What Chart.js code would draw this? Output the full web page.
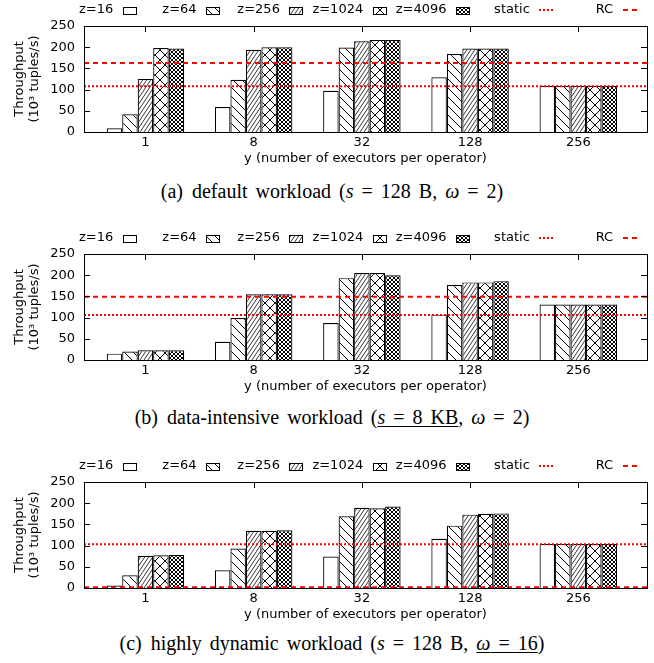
<!DOCTYPE html>
<html><head><meta charset="utf-8">
<script src="https://cdn.jsdelivr.net/npm/chart.js@4.4.0/dist/chart.umd.min.js"></script>
<style>
html,body{margin:0;padding:0;background:#fff;}
body{width:654px;height:663px;position:relative;overflow:hidden;}
canvas.panel{position:absolute;left:0;}
.cap{position:absolute;left:0;width:664px;text-align:center;font-family:"Liberation Serif","DejaVu Serif",serif;font-size:20px;line-height:22px;word-spacing:3px;color:#000;white-space:nowrap;}
.cap .lbl{margin-right:9px;}
.cap u{text-decoration:underline;text-underline-offset:2px;text-decoration-thickness:1px;}
</style></head><body>
<canvas id="ca" class="panel" width="654" height="172" style="top:0px"></canvas>
<div class="cap" style="top:179.5px"><span class="lbl">(a)</span>default workload (<i>s</i> = 128 B, <i>ω</i> = 2)</div>
<canvas id="cb" class="panel" width="654" height="172" style="top:228px"></canvas>
<div class="cap" style="top:405.5px"><span class="lbl">(b)</span>data-intensive workload (<u><i>s</i> = 8 KB</u>, <i>ω</i> = 2)</div>
<canvas id="cc" class="panel" width="654" height="172" style="top:456px"></canvas>
<div class="cap" style="top:632px"><span class="lbl">(c)</span>highly dynamic workload (<i>s</i> = 128 B, <u><i>ω</i> = 16</u>)</div>
<script>
// ---- data ----
const categories = ['1', '8', '32', '128', '256'];
const seriesNames = ['z=16', 'z=64', 'z=256', 'z=1024', 'z=4096'];
const yTicks = [0, 50, 100, 150, 200, 250];

// (a) default workload
const a_z16   = [9, 59, 97, 129, 109];
const a_z64   = [42, 123, 199, 184, 109];
const a_z256  = [125, 194, 214, 197, 109];
const a_z1024 = [198, 200, 217, 197, 109];
const a_z4096 = [197, 200, 217, 197, 109];
const a_static = 108;
const a_rc = 163;

// (b) data-intensive workload
const b_z16   = [15, 43, 87, 107, 131];
const b_z64   = [20, 99, 193, 177, 131];
const b_z256  = [23, 155, 205, 183, 131];
const b_z1024 = [23, 155, 205, 183, 131];
const b_z4096 = [23, 155, 200, 186, 131];
const b_static = 106;
const b_rc = 149;

// (c) highly dynamic workload
const c_z16   = [6, 42, 74, 116, 104];
const c_z64   = [30, 93, 169, 147, 104];
const c_z256  = [76, 135, 189, 173, 104];
const c_z1024 = [77, 135, 188, 175, 104];
const c_z4096 = [78, 136, 192, 176, 104];
const c_static = 103;
const c_rc = 1.5;

// ---- styling ----
const FONT = 'DejaVu Sans';
Chart.defaults.font.family = FONT;
Chart.defaults.font.size = 13;
Chart.defaults.color = '#000';
const X_MIN = -0.568, X_MAX = 4.635;
const RED = '#ff0000';

function makePattern(w, h, draw) {
  const c = document.createElement('canvas');
  c.width = w; c.height = h;
  const g = c.getContext('2d');
  g.fillStyle = '#fff'; g.fillRect(0, 0, w, h);
  g.strokeStyle = '#000'; g.lineWidth = 1;
  draw(g, w, h);
  return g.createPattern(c, 'repeat');
}
function back(g, w, h) { g.beginPath(); for (let k = -1; k <= 1; k++) { g.moveTo(k * w, 0); g.lineTo(k * w + w, h); } g.stroke(); }
function fwd(g, w, h) { g.beginPath(); for (let k = -1; k <= 1; k++) { g.moveTo(k * w, h); g.lineTo(k * w + w, 0); } g.stroke(); }

const fills = [
  '#ffffff',
  makePattern(9, 9, (g, w, h) => { g.lineWidth = 1; back(g, w, h); }),
  makePattern(4, 6, (g, w, h) => { g.lineWidth = 0.9; g.strokeStyle = '#222'; fwd(g, w, h); }),
  makePattern(10, 10, (g, w, h) => { g.lineWidth = 1; back(g, w, h); fwd(g, w, h); }),
  makePattern(4, 4, (g, w, h) => { g.lineWidth = 1; back(g, w, h); fwd(g, w, h); })
];

const framePlugin = {
  id: 'frame',
  afterDraw(chart) {
    const { ctx, chartArea: a, scales } = chart;
    ctx.save();
    ctx.strokeStyle = '#000'; ctx.lineWidth = 1;
    ctx.strokeRect(Math.round(a.left) + 0.5, Math.round(a.top) + 0.5, Math.round(a.right) - Math.round(a.left), Math.round(a.bottom) - Math.round(a.top));
    ctx.beginPath();
    yTicks.forEach(v => {
      const y = Math.round(scales.y.getPixelForValue(v)) + 0.5;
      ctx.moveTo(a.left, y); ctx.lineTo(a.left + 6, y);
      ctx.moveTo(a.right, y); ctx.lineTo(a.right - 6, y);
    });
    categories.forEach((c, i) => {
      const x = Math.round(scales.x.getPixelForValue(i)) + 0.5;
      ctx.moveTo(x, a.top); ctx.lineTo(x, a.top + 6);
    });
    ctx.stroke();
    // key
    const items = seriesNames.map((n, i) => ({ n, fill: fills[i] }))
      .concat([{ n: 'static', dash: [2, 2] }, { n: 'RC', dash: [5, 4] }]);
    ctx.font = '13px "' + FONT + '"';
    ctx.textAlign = 'right'; ctx.textBaseline = 'middle'; ctx.fillStyle = '#000';
    const ky = 10;
    items.forEach((it, i) => {
      const tx = 113.3 + 83.3 * i;
      ctx.fillStyle = '#000';
      ctx.fillText(it.n, tx, ky);
      const sx = Math.round(tx + 9.5);
      if (it.fill) {
        ctx.fillStyle = it.fill;
        ctx.fillRect(sx, ky - 3, 13, 7);
        ctx.strokeStyle = '#000'; ctx.lineWidth = 1; ctx.setLineDash([]);
        ctx.strokeRect(sx + 0.5, ky - 3 + 0.5, 13, 7);
      } else {
        ctx.strokeStyle = RED; ctx.lineWidth = 2; ctx.setLineDash(it.dash);
        ctx.beginPath(); ctx.moveTo(sx, ky); ctx.lineTo(sx + 15, ky); ctx.stroke();
        ctx.setLineDash([]);
      }
    });
    ctx.restore();
  }
};

function makeChart(id, series, staticVal, rcVal) {
  const datasets = [
    { type: 'line', label: 'static', data: [{ x: X_MIN, y: staticVal }, { x: X_MAX, y: staticVal }],
      borderColor: RED, borderWidth: 2, borderDash: [2, 2], pointRadius: 0, order: 0, fill: false },
    { type: 'line', label: 'RC', data: [{ x: X_MIN, y: rcVal }, { x: X_MAX, y: rcVal }],
      borderColor: RED, borderWidth: 2, borderDash: [5, 4], pointRadius: 0, order: 0, fill: false }
  ];
  series.forEach((vals, i) => {
    datasets.push({
      type: 'bar', label: seriesNames[i],
      data: vals.map((v, j) => ({ x: j, y: v })),
      backgroundColor: fills[i], borderColor: '#000', borderWidth: 1.2,
      categoryPercentage: 0.716, barPercentage: 1, order: 1
    });
  });
  return new Chart(document.getElementById(id), {
    type: 'bar',
    data: { datasets },
    plugins: [framePlugin],
    options: {
      responsive: false, animation: false, devicePixelRatio: 1,
      layout: { padding: { top: 26, right: 7, left: 0, bottom: 0 } },
      plugins: { legend: { display: false }, tooltip: { enabled: false } },
      scales: {
        x: {
          type: 'linear', min: X_MIN, max: X_MAX, offset: false,
          grid: { display: false, drawTicks: false }, border: { display: false },
          afterBuildTicks: s => { s.ticks = categories.map((c, i) => ({ value: i })); },
          ticks: { callback: v => categories[v], padding: 3, autoSkip: false, maxRotation: 0, font: { size: 13 } },
          title: { display: true, text: 'y (number of executors per operator)', font: { size: 13 }, padding: { top: 0, bottom: 6 } },
          afterFit: s => { s.height = 40; }
        },
        y: {
          min: 0, max: 250,
          grid: { display: false, drawTicks: false }, border: { display: false },
          ticks: { stepSize: 50, padding: 9, font: { size: 13 } },
          title: { display: true, text: ['Throughput', '(10³ tuples/s)'], font: { size: 13, lineHeight: 1.12 }, padding: { top: 12.7, bottom: 0 } },
          afterFit: s => { s.width = 84; }
        }
      }
    }
  });
}

makeChart('ca', [a_z16, a_z64, a_z256, a_z1024, a_z4096], a_static, a_rc);
makeChart('cb', [b_z16, b_z64, b_z256, b_z1024, b_z4096], b_static, b_rc);
makeChart('cc', [c_z16, c_z64, c_z256, c_z1024, c_z4096], c_static, c_rc);
</script>
</body></html>
